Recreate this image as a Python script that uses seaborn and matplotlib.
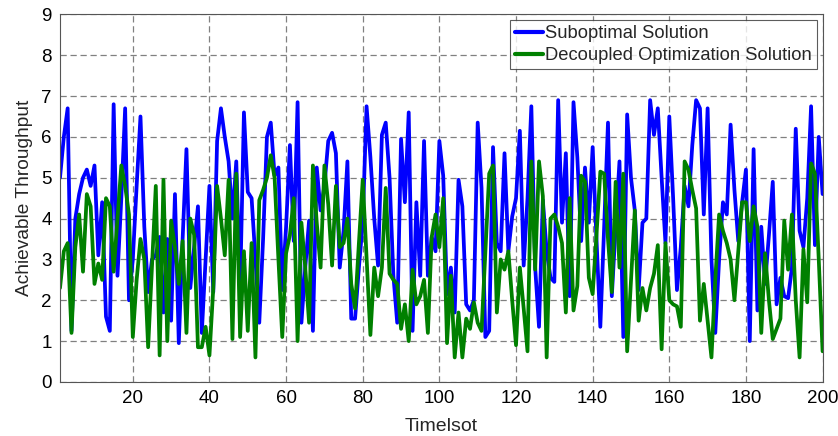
import matplotlib
matplotlib.use("Agg")
import matplotlib.pyplot as plt
import numpy as np
import pandas as pd
import seaborn as sns

# data (timeslot 1..200)
timeslot = list(range(1, 201))

suboptimal = [
    5.0, 6.0, 6.7, 1.25, 4.0, 4.6, 5.0, 5.2, 4.8, 5.3,
    3.1, 4.4, 1.6, 1.25, 6.8, 2.6, 4.5, 6.7, 2.0, 3.0,
    4.8, 6.5, 3.8, 2.2, 3.0, 3.1, 3.55, 1.7, 3.5, 1.5,
    4.6, 0.95, 3.5, 5.7, 2.3, 3.3, 4.3, 1.2, 3.0, 4.8,
    2.2, 5.9, 6.7, 6.0, 5.4, 4.0, 5.4, 2.25, 6.6, 4.65,
    4.5, 3.0, 1.45, 3.5, 6.0, 6.35, 5.05, 5.25, 2.25, 3.8,
    5.8, 3.45, 6.85, 1.45, 2.8, 3.95, 1.25, 5.25, 4.2, 4.8,
    5.9, 6.1, 5.6, 2.8, 3.7, 5.4, 1.55, 1.55, 2.8, 3.9,
    6.75, 5.5, 4.0, 2.85, 6.05, 6.35, 5.0, 2.6, 1.45, 5.95,
    4.4, 6.6, 1.25, 4.4, 2.6, 5.9, 2.6, 3.55, 3.2, 5.9,
    5.05, 2.15, 2.8, 1.7, 4.95, 4.3, 1.9, 1.75, 2.0, 6.35,
    4.75, 1.1, 1.25, 5.75, 3.4, 3.2, 5.6, 3.2, 4.05, 4.5,
    6.15, 2.85, 4.5, 6.75, 2.8, 1.35, 4.45, 3.2, 2.55, 2.45,
    6.9, 3.9, 5.6, 2.1, 6.85, 5.5, 3.45, 5.25, 3.9, 5.75,
    3.5, 1.35, 3.8, 6.35, 2.1, 3.8, 5.4, 1.1, 6.55, 5.0,
    4.2, 2.25, 3.9, 4.0, 6.9, 6.05, 6.7, 5.0, 3.4, 6.5,
    4.5, 2.25, 3.3, 4.8, 4.3, 5.8, 6.9, 6.7, 4.1, 6.7,
    3.0, 1.2, 3.0, 4.4, 4.1, 6.3, 4.7, 3.45, 4.4, 5.2,
    1.0, 5.7, 1.75, 3.8, 2.4, 3.6, 4.9, 1.9, 2.55, 2.1,
    2.05, 2.8, 6.2, 3.7, 3.3, 4.5, 6.75, 3.35, 6.0, 4.6,
]

decoupled = [
    2.3, 3.2, 3.4, 1.2, 3.3, 4.1, 2.7, 4.6, 4.3, 2.4,
    2.9, 2.5, 4.5, 4.3, 2.7, 4.0, 5.3, 4.8, 4.1, 1.1,
    2.5, 3.5, 3.0, 0.85, 2.8, 4.8, 0.65, 4.95, 1.0, 3.95,
    3.3, 2.4, 3.45, 1.2, 4.0, 3.6, 0.85, 0.85, 1.35, 0.65,
    2.3, 4.8, 4.0, 3.1, 4.95, 1.05, 5.1, 1.1, 3.2, 1.25,
    3.4, 0.6, 4.45, 4.7, 5.0, 5.55, 5.0, 3.0, 1.1, 3.15,
    3.6, 4.5, 1.0, 3.9, 2.8, 1.45, 5.3, 3.9, 2.8, 5.3,
    4.35, 2.85, 4.8, 3.3, 3.4, 4.0, 2.4, 1.8, 3.4, 4.95,
    3.05, 1.15, 2.8, 2.1, 2.8, 4.75, 2.65, 2.5, 2.4, 1.3,
    1.9, 1.0, 2.75, 1.9, 2.1, 2.5, 1.2, 3.55, 4.1, 3.3,
    4.5, 0.95, 2.6, 0.6, 1.7, 0.6, 1.55, 1.3, 1.95, 1.45,
    1.25, 3.2, 5.1, 5.3, 1.7, 3.0, 2.75, 3.2, 2.0, 0.9,
    2.8, 1.8, 0.75, 5.4, 2.75, 5.4, 4.55, 0.6, 4.0, 4.1,
    3.8, 3.4, 1.7, 4.5, 1.75, 2.35, 5.05, 4.9, 2.55, 2.15,
    3.6, 5.15, 5.1, 3.5, 2.2, 4.9, 2.8, 5.1, 0.75, 2.5,
    4.2, 1.5, 2.3, 1.75, 2.3, 2.65, 3.35, 0.8, 3.4, 2.0,
    1.9, 1.85, 1.35, 5.4, 5.2, 4.7, 4.25, 1.5, 2.4, 1.5,
    0.6, 2.5, 4.1, 3.7, 3.4, 3.0, 2.0, 3.2, 4.4, 4.4,
    3.45, 4.3, 3.8, 1.2, 3.15, 2.0, 1.05, 1.3, 1.55, 3.95,
    2.75, 4.1, 2.0, 0.6, 3.25, 1.95, 5.35, 5.1, 3.0, 0.75,
]

series_names = ["Suboptimal Solution", "Decoupled Optimization Solution"]
x_ticks = list(range(20, 201, 20))
y_ticks = list(range(0, 10))

df = pd.DataFrame({
    "Timelsot": timeslot * 2,
    "Achievable Throughput": suboptimal + decoupled,
    "method": [series_names[0]] * 200 + [series_names[1]] * 200,
})

# style
sns.set_style("white")
plt.rcParams["font.family"] = ["Liberation Sans", "DejaVu Sans"]

fig = plt.figure(figsize=(8.38, 4.36), dpi=100, facecolor="white")
ax = fig.add_axes([0.0716, 0.124, 0.910, 0.843])

sns.lineplot(
    data=df, x="Timelsot", y="Achievable Throughput", hue="method",
    palette=["#0000ff", "#008000"], linewidth=2.7, ax=ax,
)

ax.set_xlim(1, 200)
ax.set_ylim(0, 9)
ax.set_xticks(x_ticks)
ax.set_yticks(y_ticks)
ax.grid(True, color="#808080", linestyle=(0, (5, 3)), linewidth=0.9)
ax.set_axisbelow(True)
ax.tick_params(axis="both", direction="in", length=5, width=0.8,
               labelsize=13.5, colors="#555555", labelcolor="black", pad=6)
for s in ax.spines.values():
    s.set_color("#555555")
    s.set_linewidth(0.8)

ax.set_xlabel("Timelsot", fontsize=14, labelpad=8)
ax.set_ylabel("Achievable Throughput", fontsize=13.8, labelpad=6)

leg = ax.legend(loc="upper right", fontsize=13.2, frameon=True, fancybox=False,
                borderpad=0.3, handlelength=1.5, handletextpad=0.1,
                labelspacing=0.25, borderaxespad=0.3)
leg.get_frame().set_edgecolor("#333333")
leg.get_frame().set_linewidth(0.8)
for line in leg.get_lines():
    line.set_linewidth(3.0)

fig.savefig("out.png", dpi=100, facecolor="white")
